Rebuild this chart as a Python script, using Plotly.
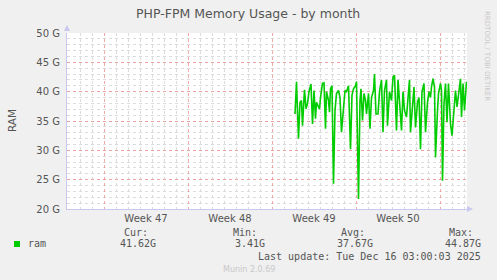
import pandas as pd
import plotly.graph_objects as go

# Sample times, in hours after 2025-12-01 00:00
hours = [46, 49, 53, 56, 59, 61, 65, 68, 71, 74, 78, 81, 84, 87, 89, 93, 95, 97,
         101, 104, 107, 109, 113, 115, 117, 120, 123, 126, 129, 133, 136, 139, 143,
         146, 149, 153, 157, 160, 163, 167, 169, 173, 176, 178, 181, 184, 187, 189,
         193, 196, 199, 203, 205, 208, 212, 215, 219, 222, 225, 229, 231, 235, 239,
         242, 245, 249, 252, 255, 259, 262, 265, 269, 272, 275, 277, 281, 284, 287,
         291, 294, 297, 300, 304, 307, 311, 314, 317, 319, 322, 325, 327, 331, 333,
         337, 339, 341, 344, 347, 350, 353, 357, 360, 363, 367, 370, 373, 377, 379,
         382, 385, 389]
# RAM in GB
ram = [36.2, 41.7, 32.0, 38.2, 38.5, 34.2, 40.3, 37.1, 38.0, 40.0, 41.3, 34.5,
       40.2, 35.4, 38.2, 37.4, 37.0, 39.0, 41.4, 41.5, 33.7, 40.0, 38.5, 36.5,
       40.5, 41.0, 24.3, 36.8, 39.7, 40.2, 39.0, 33.1, 38.2, 40.2, 40.0, 41.0,
       30.2, 39.4, 40.5, 41.0, 41.7, 21.7, 38.5, 40.5, 35.1, 39.7, 38.5, 36.2,
       39.7, 33.7, 39.0, 40.2, 43.0, 36.2, 36.2, 40.0, 42.0, 33.1, 40.2, 42.0,
       34.2, 40.0, 38.5, 42.5, 42.8, 33.4, 42.0, 37.4, 33.4, 40.0, 36.8, 35.7,
       39.4, 42.0, 33.1, 38.5, 40.8, 33.9, 38.2, 39.0, 30.2, 40.0, 41.4, 33.1,
       38.2, 40.0, 39.0, 40.8, 42.2, 40.8, 28.8, 36.8, 39.7, 41.4, 40.2, 24.8,
       38.0, 41.4, 34.8, 41.4, 34.5, 32.5, 36.2, 40.2, 37.4, 40.0, 42.2, 35.7,
       41.4, 36.8, 41.7]

y_ticks = [20, 25, 30, 35, 40, 45, 50]
title = "PHP-FPM Memory Usage - by month"
stat_labels = ["Cur:", "Min:", "Avg:", "Max:"]
stat_values = ["41.62G", "3.41G", "37.67G", "44.87G"]
last_update = "Last update: Tue Dec 16 03:00:03 2025"

base = pd.Timestamp("2025-12-01 00:00")
times = base + pd.to_timedelta(hours, unit="h")

W, H = 497, 280
L, R, T, B = 67, 30, 33, 71
pw, ph = W - L - R, H - T - B


def px(x):
    return (x - L) / pw


def py(y):
    return (H - B - y) / ph


fig = go.Figure()
fig.add_trace(go.Scatter(x=times, y=ram, mode="lines",
                         line=dict(color="#00cc00", width=1.6),
                         showlegend=False, hoverinfo="skip"))

grid_red = "rgba(240,140,140,0.75)"
grid_gray = "#dcdcdc"
axis_col = "#c8c8f0"
txt = "#555555"

fig.update_layout(
    width=W, height=H,
    margin=dict(l=L, r=R, t=T, b=B),
    paper_bgcolor="#f0f0f0", plot_bgcolor="#ffffff",
    font=dict(family="DejaVu Sans", size=10, color=txt),
    showlegend=False,
    xaxis=dict(
        type="date",
        range=["2025-11-13 22:00", "2025-12-17 06:00"],
        tick0="2025-11-17", dtick=7 * 86400000,
        ticklabelmode="period", tickformat="Week %V",
        showgrid=True, gridcolor=grid_red, griddash="dot", gridwidth=1,
        minor=dict(dtick=86400000, tick0="2025-11-17", showgrid=True,
                   gridcolor=grid_gray, griddash="dot", gridwidth=1),
        showline=True, linecolor=axis_col, linewidth=1,
        ticks="", zeroline=False, tickfont=dict(size=10, color=txt),
        fixedrange=True,
    ),
    yaxis=dict(
        range=[20, 50], tickvals=y_ticks,
        ticktext=[f"{v} G" for v in y_ticks],
        showgrid=True, gridcolor=grid_red, griddash="dot", gridwidth=1,
        minor=dict(dtick=1, showgrid=True, gridcolor=grid_gray,
                   griddash="dot", gridwidth=1),
        showline=True, linecolor=axis_col, linewidth=1,
        ticks="", ticklabelstandoff=4, zeroline=False,
        tickfont=dict(size=10, color=txt), fixedrange=True,
    ),
)

ann = []
ann.append(dict(text=title, x=px(248), y=py(13), xanchor="center", yanchor="middle",
                font=dict(size=12.5, color=txt)))
ann.append(dict(text="RAM", x=px(12), y=py(120), textangle=-90,
                xanchor="center", yanchor="middle", font=dict(size=10.5, color=txt)))
ann.append(dict(text="RRDTOOL / TOBI OETIKER", x=px(487), y=py(56), textangle=90,
                xanchor="center", yanchor="middle", font=dict(size=7, color="#c8c8c8")))
mono = "DejaVu Sans Mono"
ann.append(dict(text="ram", x=px(26), y=py(244), xanchor="left", yanchor="middle",
                font=dict(family=mono, size=10, color=txt)))
cols = [122, 231, 339, 447]
for c, lab, val in zip(cols, stat_labels, stat_values):
    ann.append(dict(text=lab, x=px(c), y=py(232), xanchor="left", yanchor="middle",
                    font=dict(family=mono, size=10, color=txt)))
    ann.append(dict(text=val, x=px(c + 36), y=py(244), xanchor="right", yanchor="middle",
                    font=dict(family=mono, size=10, color=txt)))
ann.append(dict(text=last_update, x=px(483), y=py(256), xanchor="right", yanchor="middle",
                font=dict(family=mono, size=10, color=txt)))
ann.append(dict(text="Munin 2.0.69", x=px(249), y=py(269), xanchor="center", yanchor="middle",
                font=dict(size=8, color="#c8c8c8")))
for a in ann:
    a.update(xref="paper", yref="paper", showarrow=False)
fig.update_layout(annotations=ann)

shapes = [
    # legend colour swatch
    dict(type="rect", x0=px(14), x1=px(20), y0=py(247), y1=py(241),
         fillcolor="#00cc00", line=dict(width=0)),
    # axis arrowheads
    dict(type="path", path=f"M {px(64)} {py(31)} L {px(70)} {py(31)} L {px(67)} {py(25)} Z",
         fillcolor=axis_col, line=dict(width=0)),
    dict(type="path", path=f"M {px(467)} {py(206)} L {px(467)} {py(212)} L {px(473)} {py(209)} Z",
         fillcolor=axis_col, line=dict(width=0)),
]
for s in shapes:
    s.update(xref="paper", yref="paper")
fig.update_layout(shapes=shapes)

fig.write_html("out.html")
